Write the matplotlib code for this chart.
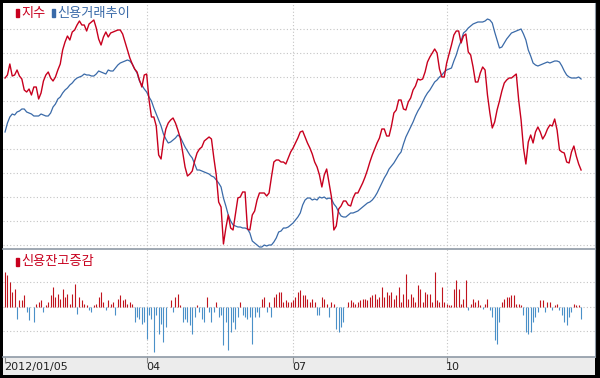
import matplotlib
matplotlib.use("Agg")
import matplotlib.pyplot as plt
import numpy as np
from matplotlib.patches import Rectangle

plt.rcParams['font.family'] = ['Noto Sans CJK KR', 'DejaVu Sans']

# daily series, Jan 5 2012 onward (trading-day index)
index_pts = [172, 175, 186, 174, 175, 180, 174, 171, 160, 158,
             161, 155, 163, 163, 151, 157, 169, 175, 178, 172,
             169, 173, 180, 186, 200, 208, 214, 210, 218, 220,
             225, 229, 225, 225, 219, 226, 228, 230, 222, 211,
             205, 213, 218, 213, 217, 218, 219, 220, 220, 216,
             208, 200, 192, 186, 181, 178, 170, 163, 175, 176,
             150, 133, 133, 124, 95, 91, 109, 121, 127, 130,
             132, 127, 120, 112, 98, 83, 74, 76, 79, 89,
             97, 101, 103, 109, 111, 113, 111, 92, 75, 48,
             43, 6, 22, 35, 22, 20, 36, 52, 53, 58,
             58, 21, 20, 35, 39, 50, 57, 57, 57, 54,
             57, 73, 88, 90, 90, 88, 88, 86, 92, 98,
             102, 107, 112, 118, 119, 113, 107, 102, 96, 88,
             83, 75, 63, 75, 81, 67, 53, 20, 24, 41,
             44, 49, 49, 45, 44, 52, 57, 57, 62, 67,
             73, 80, 88, 95, 101, 107, 112, 121, 121, 114,
             114, 124, 137, 140, 150, 150, 141, 140, 148, 152,
             160, 164, 171, 170, 171, 178, 188, 193, 197, 201,
             197, 181, 173, 173, 187, 196, 205, 215, 219, 219,
             207, 214, 216, 198, 195, 183, 168, 168, 177, 183,
             180, 155, 137, 122, 128, 140, 149, 159, 167, 170,
             172, 172, 174, 176, 150, 130, 102, 86, 108, 115,
             107, 118, 123, 118, 111, 115, 121, 125, 124, 131,
             120, 100, 98, 97, 88, 87, 98, 104, 94, 86,
             80]

credit_trend = [118, 127, 133, 136, 135, 138, 139, 141, 141, 138,
                137, 136, 134, 134, 134, 136, 135, 134, 134, 137,
                143, 146, 151, 153, 157, 160, 162, 165, 167, 170,
                172, 173, 174, 176, 175, 175, 174, 174, 176, 179,
                178, 177, 176, 180, 179, 179, 182, 185, 187, 188,
                189, 190, 189, 186, 181, 177, 169, 165, 161, 158,
                153, 149, 142, 136, 130, 124, 116, 111, 107, 108,
                110, 112, 115, 113, 108, 103, 99, 95, 92, 86,
                80, 80, 79, 78, 77, 76, 74, 73, 70, 67,
                63, 52, 44, 35, 29, 25, 24, 23, 23, 22,
                22, 21, 17, 9, 7, 5, 3, 3, 5, 4,
                5, 5, 8, 12, 18, 19, 22, 22, 23, 25,
                27, 30, 33, 37, 45, 50, 52, 52, 50, 51,
                50, 53, 52, 53, 51, 52, 51, 46, 43, 38,
                34, 33, 33, 35, 37, 37, 38, 39, 41, 43,
                45, 47, 48, 50, 53, 57, 62, 67, 72, 76,
                81, 84, 87, 91, 95, 98, 106, 113, 118, 123,
                128, 134, 139, 143, 148, 153, 157, 160, 164, 168,
                170, 173, 175, 178, 180, 181, 182, 189, 195, 203,
                209, 217, 219, 222, 224, 226, 227, 228, 228, 228,
                229, 231, 230, 227, 218, 210, 202, 203, 207, 211,
                214, 217, 218, 219, 220, 221, 216, 210, 200, 194,
                187, 185, 184, 185, 186, 187, 188, 187, 188, 189,
                189, 188, 184, 179, 175, 173, 172, 172, 172, 173,
                171]

credit_change = [35, 32, 25, 15, 18, -12, 7, 7, 12, -5,
                 -13, 0, -15, 3, 5, 7, -5, 2, 5, 12,
                 20, 10, 13, 8, 18, 10, 13, 3, 13, 23,
                 -7, 10, 7, 3, 2, -3, -5, 2, 3, 10,
                 15, 5, -3, 7, 3, 5, -8, 8, 12, 7,
                 8, 3, 5, 3, -15, -10, -12, -17, -15, -32,
                 -8, -12, -45, -8, -27, -17, -35, -20, 0, 7,
                 -5, 10, 13, 2, -15, -12, -15, -18, -27, -10,
                 2, -5, -12, -15, 10, -5, -15, -5, 5, -10,
                 -8, -38, -15, -43, -25, -15, -22, -10, 5, -8,
                 -10, -12, -10, -37, -10, -5, -10, 8, 10, -5,
                 5, -10, 10, 13, 15, 15, 5, 7, 5, 5,
                 7, 10, 15, 17, 12, 12, 8, 5, 8, 5,
                 -8, -8, 10, 8, 3, -10, 5, 3, -22, -25,
                 -20, -15, 0, 5, 7, 5, 3, 5, 7, 8,
                 8, 7, 10, 12, 13, 8, 10, 20, 10, 15,
                 12, 15, 8, 12, 20, 5, 13, 33, 8, 13,
                 10, 5, 22, 18, 5, 15, 13, 13, 5, 35,
                 7, 5, 20, 5, 3, 2, 2, 18, 27, 18,
                 3, 8, 27, -3, 3, 8, 5, 7, 2, -2,
                 3, 8, -3, -10, -33, -37, -15, 5, 8, 10,
                 10, 12, 12, 3, 3, 2, -8, -25, -27, -25,
                 -15, -10, -5, 7, 7, -5, 5, 5, -3, 2,
                 3, -3, -8, -15, -18, -10, -5, 3, 2, 2,
                 -12]

tick_days = [0, 59, 120, 184]
tick_labels = ['2012/01/05', '04', '07', '10']

RED = '#c8001e'
BLUE = '#3a6aa8'
BAR_RED = '#c0141e'
BAR_BLUE = '#4a90c8'
EDGE = '#8f9aa6'
GRID = '#c4c4c4'

W, H = 600, 378


def box(x0, y0, x1, y1):
    return [x0 / W, 1 - y1 / H, (x1 - x0) / W, (y1 - y0) / H]


fig = plt.figure(figsize=(6, 3.78), dpi=100, facecolor='black')
ax1 = fig.add_axes(box(3, 3, 595, 249))
ax2 = fig.add_axes(box(3, 249, 595, 357))
ax3 = fig.add_axes(box(3, 357, 595, 375))

xlim = (-0.85, 245.8)

# upper panel: index and credit trend
d1 = np.arange(len(index_pts))
d2 = np.arange(len(credit_trend))
ax1.plot(d2, credit_trend, color=BLUE, lw=0.9)
ax1.plot(d1, index_pts, color=RED, lw=1.0)
ax1.set_ylim(1, 247)
ax1.set_yticks([5, 29, 53, 77, 101, 125, 149, 173, 197, 221])

# lower panel: daily change in credit balance
d3 = np.arange(len(credit_change))
vals = np.array(credit_change)
cols = [BAR_RED if v > 0 else BAR_BLUE for v in vals]
ax2.vlines(d3, 0, vals, colors=cols, lw=0.8)
ax2.set_ylim(-50.5, 57.5)
ax2.set_yticks([-24.5, 0, 24.5])

for ax in (ax1, ax2):
    ax.set_xlim(*xlim)
    ax.set_xticks(tick_days[1:])
    ax.grid(True, color=GRID, ls=(0, (1, 2)), lw=0.8)
    ax.tick_params(length=0, labelleft=False, labelbottom=False)
    ax.set_facecolor('white')
    for s in ax.spines.values():
        s.set_visible(False)
    ax.spines['right'].set_visible(True)
    ax.spines['right'].set_color(EDGE)
    ax.set_axisbelow(True)

ax2.spines['top'].set_visible(True)
ax2.spines['top'].set_color(EDGE)
ax2.spines['top'].set_linewidth(1.2)

# date strip
ax3.set_facecolor('#ececec')
ax3.set_xlim(*xlim)
ax3.set_ylim(0, 1)
ax3.set_xticks(tick_days)
ax3.set_xticklabels([])
ax3.set_yticks([])
for s in ax3.spines.values():
    s.set_visible(False)
ax3.spines['top'].set_visible(True)
ax3.spines['top'].set_color(EDGE)
ax3.spines['top'].set_linewidth(1.2)
ax3.tick_params(axis='x', direction='in', top=True, bottom=False, length=4, color='#888888')
for d, lab in zip(tick_days, tick_labels):
    ax3.text(d - 0.2, 0.45, lab, fontsize=8, color='#222222', ha='left', va='center',
             family=['DejaVu Sans'])

# legends
fig.patches.append(Rectangle((16 / W, 1 - 17 / H), 3 / W, 8 / H, transform=fig.transFigure,
                             color=RED, zorder=5))
fig.text(21 / W, 1 - 13 / H, '지수', color=RED, fontsize=9.5, va='center', ha='left')
fig.patches.append(Rectangle((52 / W, 1 - 17 / H), 3 / W, 8 / H, transform=fig.transFigure,
                             color=BLUE, zorder=5))
fig.text(57 / W, 1 - 13 / H, '신용거래추이', color=BLUE, fontsize=9.5, va='center', ha='left')
fig.patches.append(Rectangle((16 / W, 1 - 266 / H), 3 / W, 8 / H, transform=fig.transFigure,
                             color=RED, zorder=5))
fig.text(21 / W, 1 - 262 / H, '신용잔고증감', color=RED, fontsize=9.5, va='center', ha='left')

fig.savefig('out.png', dpi=100, facecolor='black')
